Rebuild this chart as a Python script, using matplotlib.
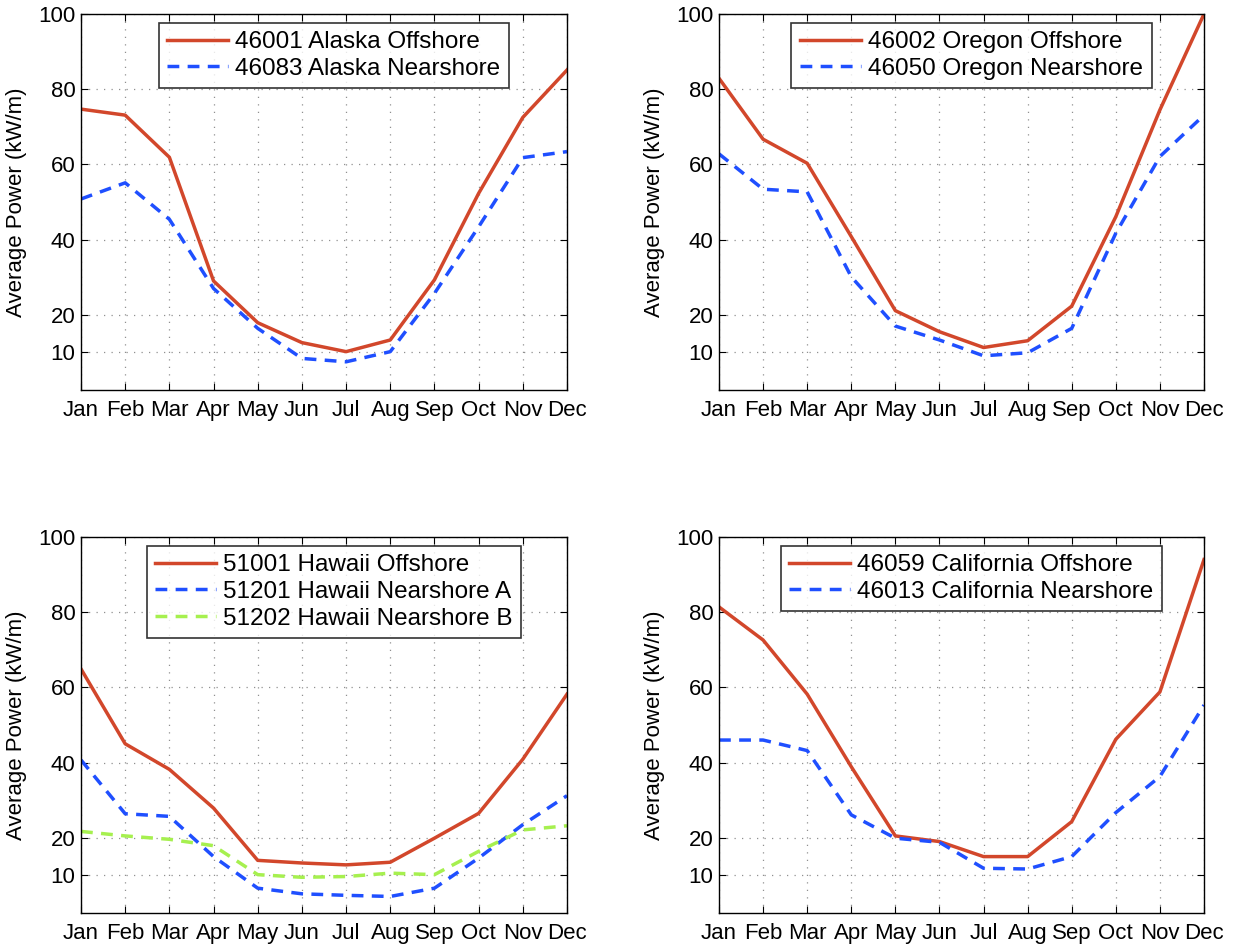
import numpy as np
import matplotlib
matplotlib.use('Agg')
import matplotlib.pyplot as plt

plt.rcParams['font.family'] = ['Liberation Sans', 'DejaVu Sans']

months = ['Jan', 'Feb', 'Mar', 'Apr', 'May', 'Jun', 'Jul', 'Aug', 'Sep', 'Oct', 'Nov', 'Dec']
yticks = [10, 20, 40, 60, 80, 100]

alaska_off = [74.7, 73.1, 61.9, 29.0, 17.9, 12.6, 10.2, 13.3, 29.3, 52.3, 72.5, 85.1]
alaska_near = [50.8, 55.1, 45.4, 27.0, 16.4, 8.4, 7.5, 10.2, 25.7, 43.4, 61.8, 63.4]

oregon_off = [82.9, 66.7, 60.3, 40.8, 21.1, 15.5, 11.3, 13.1, 22.3, 46.1, 74.5, 100.0]
oregon_near = [62.8, 53.4, 52.7, 30.1, 17.0, 13.3, 9.1, 9.9, 16.4, 41.7, 62.1, 73.1]

hawaii_off = [64.9, 45.0, 38.2, 27.9, 14.0, 13.3, 12.8, 13.5, 19.9, 26.5, 40.9, 58.2]
hawaii_near_a = [40.7, 26.4, 25.7, 15.0, 6.6, 5.1, 4.7, 4.4, 6.6, 14.6, 23.5, 31.2]
hawaii_near_b = [21.7, 20.5, 19.6, 17.9, 10.2, 9.5, 9.7, 10.6, 10.2, 16.4, 22.1, 23.2]

calif_off = [81.4, 72.6, 58.2, 38.9, 20.5, 19.0, 15.0, 15.0, 24.3, 46.2, 58.8, 94.0]
calif_near = [46.0, 46.0, 43.2, 26.1, 19.9, 18.8, 11.9, 11.7, 15.0, 26.7, 36.3, 55.3]

RED = '#d2472b'
BLUE = '#1f4fff'
GREEN = '#a6f04f'

# axes boxes in pixels (left, top, right, bottom)
panels = [
    ([81, 14, 567, 390], [(alaska_off, RED, '-', '46001 Alaska Offshore'),
                          (alaska_near, BLUE, '--', '46083 Alaska Nearshore')]),
    ([719, 14, 1204, 390], [(oregon_off, RED, '-', '46002 Oregon Offshore'),
                            (oregon_near, BLUE, '--', '46050 Oregon Nearshore')]),
    ([81, 537, 567, 913], [(hawaii_off, RED, '-', '51001 Hawaii Offshore'),
                           (hawaii_near_a, BLUE, '--', '51201 Hawaii Nearshore A'),
                           (hawaii_near_b, GREEN, '--', '51202 Hawaii Nearshore B')]),
    ([719, 537, 1204, 913], [(calif_off, RED, '-', '46059 California Offshore'),
                             (calif_near, BLUE, '--', '46013 California Nearshore')]),
]

W, H = 1234, 947
fig = plt.figure(figsize=(W / 100, H / 100), dpi=100)
x = np.arange(1, 13)

for (x0, y0, x1, y1), series in panels:
    ax = fig.add_axes([x0 / W, 1 - y1 / H, (x1 - x0) / W, (y1 - y0) / H])
    for vals, col, ls, lab in series:
        if ls == '--':
            ax.plot(x, vals, color=col, lw=2.5, dashes=(3.4, 2.4), label=lab)
        else:
            ax.plot(x, vals, color=col, lw=2.5, label=lab)
    ax.set_xlim(1, 12)
    ax.set_ylim(0, 100)
    ax.set_xticks(x)
    ax.set_xticklabels(months)
    ax.set_yticks(yticks)
    ax.tick_params(direction='in', top=True, right=True, labelsize=16, length=5, width=0.8)
    ax.tick_params(axis='x', pad=7)
    ax.tick_params(axis='y', pad=4)
    ax.grid(True, ls=(0, (1, 5)), color='#909090', lw=0.9)
    ax.set_ylabel('Average Power (kW/m)', fontsize=16, labelpad=8)
    for s in ax.spines.values():
        s.set_linewidth(1)
    # legend sits a little right of centre, as in the original
    leg = ax.legend(loc='upper center', bbox_to_anchor=(0.5 + 10 / (x1 - x0), 1),
                    fontsize=17.5, frameon=True, fancybox=False,
                    edgecolor='black', borderaxespad=0.35, handlelength=2.5,
                    handletextpad=0.3, labelspacing=0.2, borderpad=0.35)
    leg.get_frame().set_linewidth(1.2)

fig.savefig('out.png', dpi=100)
